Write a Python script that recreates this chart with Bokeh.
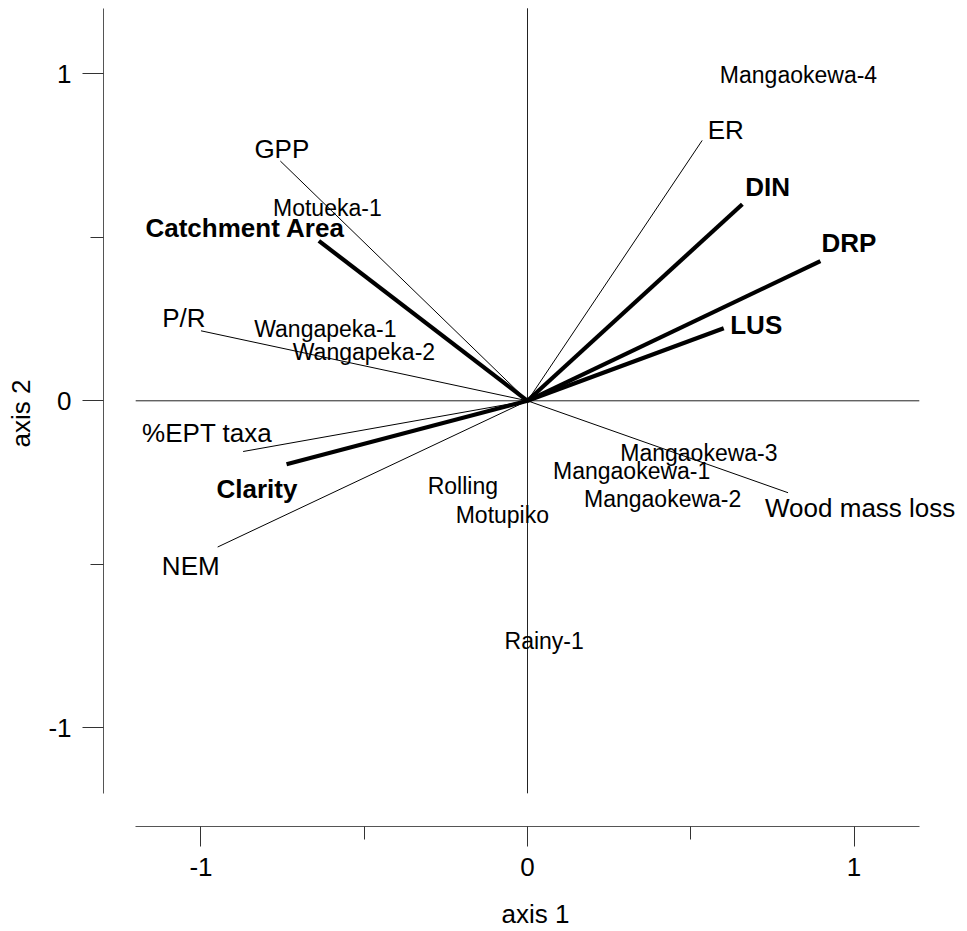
from bokeh.plotting import figure
from bokeh.models import Range1d, FixedTicker, ColumnDataSource
from bokeh.embed import file_html
from bokeh.resources import INLINE
from bokeh.core.properties import value

# ---- data: environmental / functional variable vectors (axis 1, axis 2) ----
var_names = ["GPP", "Catchment Area", "P/R", "%EPT taxa", "Clarity", "NEM",
             "ER", "DIN", "DRP", "LUS", "Wood mass loss"]
var_x = [-0.757, -0.639, -1.000, -0.871, -0.738, -0.949, 0.535, 0.658, 0.897, 0.601, 0.798]
var_y = [0.733, 0.489, 0.214, -0.155, -0.194, -0.447, 0.796, 0.601, 0.427, 0.222, -0.281]
var_structural = [False, True, False, False, True, False, False, True, True, True, False]

# ---- data: site scores ----
site_names = ["Mangaokewa-4", "Motueka-1", "Wangapeka-1", "Wangapeka-2", "Mangaokewa-3",
              "Mangaokewa-1", "Mangaokewa-2", "Rolling", "Motupiko", "Rainy-1"]
site_x = [0.830, -0.613, -0.619, -0.501, 0.525, 0.319, 0.414, -0.198, -0.077, 0.051]
site_y = [0.991, 0.584, 0.213, 0.144, -0.166, -0.222, -0.307, -0.266, -0.354, -0.739]

# ---- axes ----
axis_ticks = [-1, 0, 1]
axis_tick_labels = ["-1", "0", "1"]
axis_minor_ticks = [-0.5, 0.5]
axis_lo, axis_hi = -1.2, 1.2

# ---- label layout (screen-pixel offsets from vector tips) ----
label_align = ["center", "right", "right", "left", "left", "right",
               "left", "left", "left", "left", "left"]
label_dx = [1.5, 26, 4.5, -101, -70, 2, 5.6, 3, 1, 6.5, -23]
label_dy = [-12.5, -12.5, -13, -19, 25, 19.4, -10.7, -17.3, -17.7, -3, 15.6]
site_dy = -2

FONT = "Liberation Sans"

p = figure(width=967, height=931, output_backend="svg", toolbar_location=None,
           x_range=Range1d(-1.2986, 1.3476), y_range=Range1d(-1.3014, 1.2238),
           min_border_left=103, min_border_right=0, min_border_top=0,
           min_border_bottom=104, x_axis_label="axis 1", y_axis_label="axis 2")
p.grid.visible = False
p.outline_line_color = None
p.background_fill_color = "white"
p.border_fill_color = "white"

ticker = FixedTicker(ticks=axis_ticks, minor_ticks=axis_minor_ticks)
overrides = {t: lab for t, lab in zip(axis_ticks, axis_tick_labels)}
for ax in (p.xaxis[0], p.yaxis[0]):
    ax.ticker = ticker
    ax.major_label_overrides = overrides
    ax.bounds = (axis_lo, axis_hi)
    ax.axis_line_color = "#555555"
    ax.axis_line_width = 1
    ax.major_tick_line_color = "#333333"
    ax.minor_tick_line_color = "#333333"
    ax.major_tick_in = 0
    ax.minor_tick_in = 0
    ax.minor_tick_out = 13
    ax.major_label_text_font = FONT
    ax.major_label_text_font_size = "26px"
    ax.major_label_text_color = "black"
    ax.axis_label_text_font = FONT
    ax.axis_label_text_font_size = "26px"
    ax.axis_label_text_font_style = "normal"
    ax.axis_label_text_color = "black"

p.xaxis[0].major_tick_out = 20
p.xaxis[0].major_label_standoff = 11
p.xaxis[0].axis_label_standoff = 20
p.yaxis[0].major_tick_out = 21
p.yaxis[0].major_label_standoff = 11
p.yaxis[0].axis_label_standoff = 9

# crosshair through the origin
p.segment(x0=[axis_lo, 0], y0=[0, axis_lo], x1=[axis_hi, 0], y1=[0, axis_hi],
          line_color="#222222", line_width=1)

# vectors
thin = [i for i, s in enumerate(var_structural) if not s]
thick = [i for i, s in enumerate(var_structural) if s]
p.segment(x0=0, y0=0, x1=[var_x[i] for i in thin], y1=[var_y[i] for i in thin],
          line_color="black", line_width=1)
p.segment(x0=0, y0=0, x1=[var_x[i] for i in thick], y1=[var_y[i] for i in thick],
          line_color="black", line_width=4.2)

# vector labels
vsrc = ColumnDataSource(dict(
    x=var_x, y=var_y, text=var_names, align=label_align,
    dx=label_dx, dy=label_dy,
    style=["bold" if s else "normal" for s in var_structural],
))
p.text(x="x", y="y", text="text", source=vsrc, text_align="align",
       text_baseline="alphabetic", x_offset="dx", y_offset="dy",
       text_font=value(FONT), text_font_size="26px", text_font_style="style",
       text_color="black")

# site labels
ssrc = ColumnDataSource(dict(x=site_x, y=site_y, text=site_names))
p.text(x="x", y="y", text="text", source=ssrc, text_align="center",
       text_baseline="alphabetic", y_offset=site_dy,
       text_font=value(FONT), text_font_size="23px", text_color="black")

open("out.html", "w").write(file_html(p, INLINE))
